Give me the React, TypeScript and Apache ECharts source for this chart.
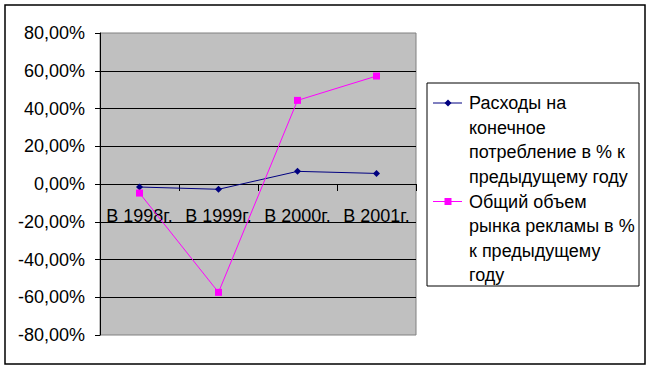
import React, { useEffect, useRef } from "react";
import * as echarts from "echarts";

const categories = ["В 1998г.", "В 1999г.", "В 2000г.", "В 2001г."];
const seriesNames = [
  "Расходы на конечное потребление в % к предыдущему году",
  "Общий объем рынка рекламы в % к предыдущему году",
];
const consumption = [-1.6, -2.8, 6.7, 5.6];
const advertising = [-4.8, -57.4, 44.3, 57.2];
const legendLines1 = ["Расходы на", "конечное", "потребление в % к", "предыдущему году"];
const legendLines2 = ["Общий объем", "рынка рекламы в %", "к предыдущему", "году"];
const yMin = -80;
const yMax = 80;
const yStep = 20;

const FONT = "Liberation Sans";
const NAVY = "#000080";
const PINK = "#FF00FF";

export default function App() {
  const ref = useRef<HTMLDivElement>(null);
  useEffect(() => {
    document.body.style.margin = "0";
    const chart = echarts.init(ref.current!, null, { renderer: "svg" });
    const lh = 24.5;
    const legendText = (lines: string[], y0: number) =>
      lines.map((t, i) => ({
        type: "text",
        x: 469,
        y: y0 + i * lh,
        style: { text: t, font: `18px ${FONT}`, fill: "#000", textVerticalAlign: "middle" },
      }));
    chart.setOption({
      animation: false,
      backgroundColor: "#fff",
      textStyle: { fontFamily: FONT, fontSize: 18 },
      grid: {
        left: 100,
        top: 33,
        right: 234,
        bottom: 35,
        show: true,
        backgroundColor: "#C0C0C0",
        borderColor: "#808080",
        borderWidth: 1,
      },
      xAxis: {
        type: "category",
        data: categories,
        boundaryGap: true,
        position: "bottom",
        offset: -151,
        axisLine: { onZero: false, lineStyle: { color: "#000", width: 1 } },
        axisTick: { show: true, length: 7, inside: false, lineStyle: { color: "#000" } },
        axisLabel: {
          color: "#000",
          fontFamily: FONT,
          fontSize: 18,
          margin: 23,
          interval: 0,
          hideOverlap: false,
        },
      },
      yAxis: {
        type: "value",
        min: yMin,
        max: yMax,
        interval: yStep,
        axisLine: { show: true, lineStyle: { color: "#000", width: 1 } },
        axisTick: { show: true, length: 5, inside: false, lineStyle: { color: "#000" } },
        axisLabel: {
          color: "#000",
          fontFamily: FONT,
          fontSize: 18,
          margin: 15,
          formatter: (v: number) => v.toFixed(2).replace(".", ",") + "%",
        },
        splitLine: { show: true, showMinLine: false, showMaxLine: false, lineStyle: { color: "#000", width: 1 } },
      },
      series: [
        {
          name: seriesNames[0],
          type: "line",
          data: consumption,
          symbol: "diamond",
          symbolSize: 7,
          itemStyle: { color: NAVY },
          lineStyle: { color: NAVY, width: 1 },
        },
        {
          name: seriesNames[1],
          type: "line",
          data: advertising,
          symbol: "rect",
          symbolSize: 7,
          itemStyle: { color: PINK },
          lineStyle: { color: PINK, width: 1 },
        },
      ],
      graphic: [
        {
          type: "rect",
          shape: { x: 5, y: 5, width: 640, height: 359 },
          style: { fill: "none", stroke: "#000", lineWidth: 1.5 },
          silent: true,
        },
        {
          type: "rect",
          shape: { x: 427, y: 83, width: 212, height: 203 },
          style: { fill: "#fff", stroke: "#000", lineWidth: 1 },
        },
        { type: "line", shape: { x1: 433, y1: 103, x2: 462, y2: 103 }, style: { stroke: NAVY, lineWidth: 1 } },
        {
          type: "polygon",
          shape: { points: [[448, 99.5], [451.5, 103], [448, 106.5], [444.5, 103]] },
          style: { fill: NAVY },
        },
        { type: "line", shape: { x1: 433, y1: 201.5, x2: 462, y2: 201.5 }, style: { stroke: PINK, lineWidth: 1 } },
        { type: "rect", shape: { x: 444.5, y: 198, width: 7, height: 7 }, style: { fill: PINK } },
        ...legendText(legendLines1, 103),
        ...legendText(legendLines2, 201.5),
      ],
    });
    return () => chart.dispose();
  }, []);
  return <div ref={ref} style={{ width: 650, height: 370 }} />;
}
